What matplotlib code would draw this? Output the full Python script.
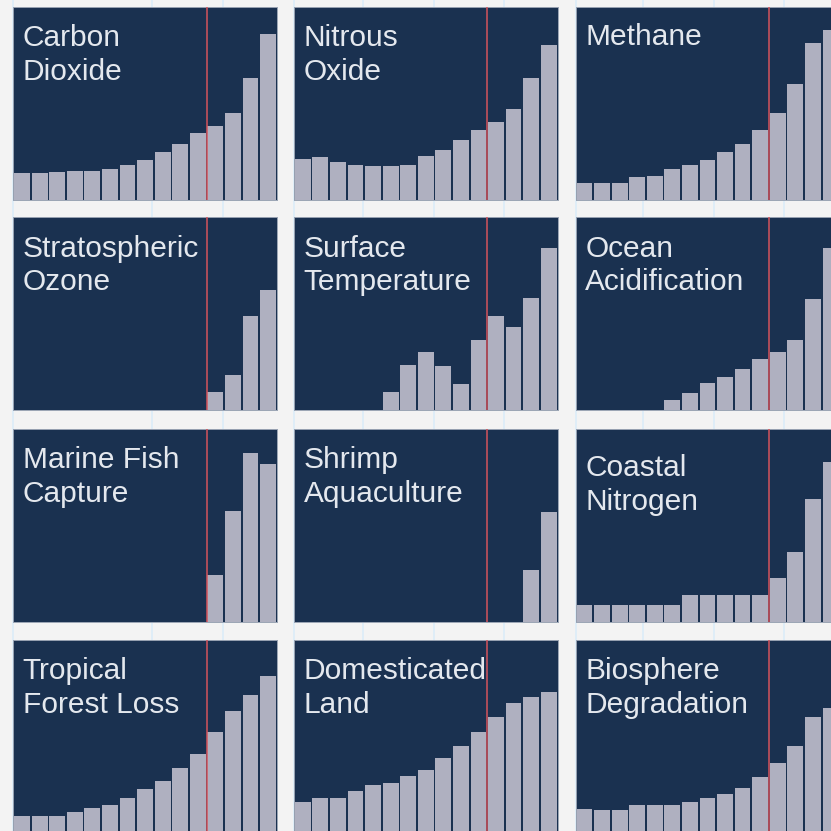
import numpy as np
import matplotlib
matplotlib.use("Agg")
import matplotlib.pyplot as plt

# bar heights, as % of panel height (15 periods each)
titles = ["Carbon\nDioxide", "Nitrous\nOxide", "Methane",
          "Stratospheric\nOzone", "Surface\nTemperature", "Ocean\nAcidification",
          "Marine Fish\nCapture", "Shrimp\nAquaculture", "Coastal\nNitrogen",
          "Tropical\nForest Loss", "Domesticated\nLand", "Biosphere\nDegradation"]

co2 = [13.8, 13.8, 14.7, 15.2, 15.2, 15.9, 18.3, 20.7, 25.0, 29.0, 34.5, 38.3, 45.2, 63.4, 85.9]
n2o = [21.4, 22.4, 19.8, 18.3, 17.6, 17.6, 18.3, 22.9, 26.0, 30.9, 36.2, 40.2, 47.1, 63.4, 80.2]
methane = [9.0, 9.0, 9.0, 12.1, 12.4, 15.9, 18.1, 20.7, 25.0, 29.0, 36.2, 45.2, 60.0, 81.6, 88.3]
ozone = [0, 0, 0, 0, 0, 0, 0, 0, 0, 0, 0, 9.3, 18.2, 48.8, 62.2]
temperature = [0, 0, 0, 0, 0, 9.3, 23.4, 30.4, 22.7, 13.6, 36.3, 48.8, 43.0, 58.2, 84.0]
ocean = [0, 0, 0, 0, 0, 5.2, 9.1, 14.4, 17.0, 21.6, 26.8, 30.2, 36.4, 57.9, 84.0]
fish = [0, 0, 0, 0, 0, 0, 0, 0, 0, 0, 0, 24.3, 57.6, 87.8, 81.9]
shrimp = [0, 0, 0, 0, 0, 0, 0, 0, 0, 0, 0, 0, 0, 27.1, 56.9]
nitrogen = [9.0, 9.0, 9.0, 9.0, 9.0, 9.0, 14.1, 14.1, 14.1, 14.1, 14.1, 22.6, 36.4, 63.8, 82.8]
forest = [9.0, 9.0, 9.0, 10.7, 12.9, 14.5, 18.1, 22.8, 27.1, 33.6, 41.0, 52.1, 63.4, 71.4, 81.6]
land = [16.0, 18.1, 18.1, 21.6, 24.8, 25.9, 29.7, 32.8, 39.0, 45.3, 52.2, 60.3, 67.2, 70.7, 72.8]
biosphere = [12.6, 12.1, 12.1, 14.5, 14.5, 14.5, 15.9, 18.1, 20.2, 23.1, 29.0, 36.2, 45.3, 60.3, 65.0]

series = [co2, n2o, methane, ozone, temperature, ocean,
          fish, shrimp, nitrogen, forest, land, biosphere]

W = H = 831
navy = "#1a3150"
bar_col = "#afb0c0"

fig = plt.figure(figsize=(W / 100, H / 100), dpi=100, facecolor="#f3f3f3")

# faint page grid behind the panels
bg = fig.add_axes([0, 0, 1, 1])
bg.set_facecolor("#f3f3f3")
bg.set_xlim(0, W)
bg.set_ylim(H, 0)
bg.set_xticks([13, 152, 223, 294, 363, 434, 504, 576, 643, 714, 784])
bg.set_yticks([])
bg.grid(axis="x", color="#dcecf8", lw=1.2)
bg.tick_params(length=0, labelbottom=False)
for s in bg.spines.values():
    s.set_visible(False)

lefts = [13.3, 294, 575.7]
tops = [7, 217.3, 429, 640]
pw, ph = 263.5, 193

for i, (title, vals) in enumerate(zip(titles, series)):
    r, c = divmod(i, 3)
    ax = fig.add_axes([lefts[c] / W, (H - tops[r] - ph) / H, pw / W, ph / H])
    ax.set_facecolor(navy)
    x = np.arange(len(vals))
    ax.bar(x, vals, width=0.9, color=bar_col, zorder=2)
    ax.axvline(10.5, color="#d4545c", lw=1.1, zorder=3)
    ax.set_xlim(-0.5, 14.5)
    ax.set_ylim(0, 100)
    ax.set_xticks([])
    ax.set_yticks([])
    for s in ax.spines.values():
        s.set_color("#9aa4b4")
        s.set_linewidth(0.7)
    # baseline of the last line, in px below the panel top
    dy = 46 if title.startswith("Coastal") else 38
    dy += 35 * title.count("\n")
    ax.text(9.5 / pw, 1 - dy / ph, title, transform=ax.transAxes,
            ha="left", va="baseline", fontsize=21.5, color="#e4e8ee",
            family="Liberation Sans", linespacing=1.26, zorder=4)

fig.savefig("out.png", dpi=100, facecolor=fig.get_facecolor())
